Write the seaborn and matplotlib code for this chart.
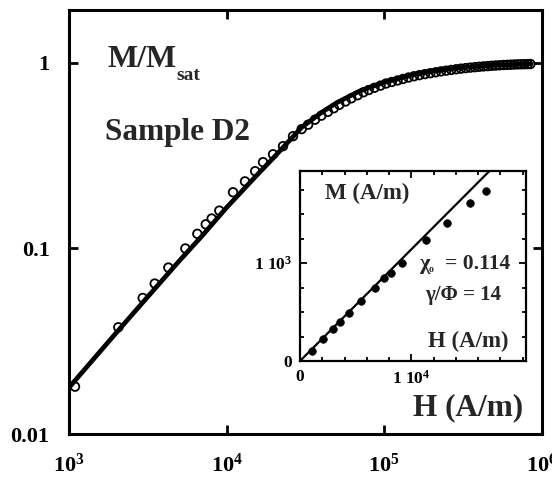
import matplotlib
matplotlib.use("Agg")
import matplotlib.pyplot as plt
from matplotlib.ticker import FixedLocator, MultipleLocator, NullLocator
import seaborn as sns

# ---------------- main panel data ----------------
H_data = [1092, 2056, 2938, 3500, 4273, 5478, 6530, 7380, 8050, 9000,
          11000, 13100, 15200, 17060, 19740, 22850, 26440,
          30000, 33000, 36500, 40000, 44000, 48000, 52000, 57000, 62000,
          68000, 74000, 80000, 87000, 95000, 103000, 112000, 122000,
          132000, 143000, 155000, 168000, 182000, 197000, 213000, 230000,
          248000, 267000, 287000, 308000, 330000, 353000, 377000, 402000,
          428000, 455000, 483000, 512000, 542000, 573000, 605000, 638000,
          672000, 707000, 743000, 780000, 818000, 850000]
M_data = [0.018, 0.0376, 0.0541, 0.0647, 0.0789, 0.100, 0.120, 0.135, 0.145, 0.160,
          0.201, 0.230, 0.261, 0.292, 0.322, 0.356, 0.403,
          0.440, 0.465, 0.495, 0.520, 0.545, 0.570, 0.595, 0.620, 0.645,
          0.670, 0.695, 0.715, 0.735, 0.755, 0.775, 0.790, 0.805,
          0.820, 0.835, 0.848, 0.860, 0.871, 0.881, 0.891, 0.901,
          0.909, 0.917, 0.925, 0.932, 0.938, 0.944, 0.949, 0.954,
          0.958, 0.962, 0.966, 0.969, 0.972, 0.975, 0.977, 0.979,
          0.981, 0.983, 0.984, 0.985, 0.986, 0.987]

H_fit = [1000, 2000, 3000, 5000, 7000, 10000, 15000, 20000, 30000, 40000,
         50000, 70000, 100000, 150000, 200000, 300000, 500000, 850000]
M_fit = [0.0178, 0.0352, 0.0522, 0.0855, 0.117, 0.166, 0.240, 0.310, 0.450, 0.540,
         0.610, 0.705, 0.785, 0.860, 0.900, 0.942, 0.972, 0.990]

x_ticks = [1e3, 1e4, 1e5, 1e6]
x_ticklabels = [r"$10^{3}$", r"$10^{4}$", r"$10^{5}$", r"$10^{6}$"]
y_ticks = [0.01, 0.1, 1]
y_ticklabels = ["0.01", "0.1", "1"]

# ---------------- inset data ----------------
H_in = [1098, 2080, 2975, 3570, 4375, 5510, 6700, 7530, 8130, 9130,
        11310, 13190, 15270, 16720]
M_in = [102, 221, 326, 395, 486, 615, 748, 844, 895, 997,
        1235, 1411, 1609, 1735]
H_in_fit = [0, 18000]
M_in_fit = [0, 2052]
xin_ticks = [0, 1e4]
xin_ticklabels = ["0", r"1 $10^{4}$"]
yin_ticks = [0, 1e3]
yin_ticklabels = ["0", r"1 $10^{3}$"]

# ---------------- style ----------------
sns.set_style("ticks")
plt.rcParams['font.family'] = ['Liberation Serif', 'DejaVu Serif']
plt.rcParams['font.weight'] = 'bold'
plt.rcParams['mathtext.fontset'] = 'custom'
plt.rcParams['mathtext.rm'] = 'Liberation Serif:bold'
plt.rcParams['mathtext.it'] = 'Liberation Serif:bold:italic'
plt.rcParams['mathtext.bf'] = 'Liberation Serif:bold'

W, Hh = 552, 479
fig = plt.figure(figsize=(W / 100, Hh / 100), dpi=100)


def fpos(x, y):
    return x / W, 1 - y / Hh


# main axes: pixel box x 69..541.5, y 10..434
ax = fig.add_axes([69 / W, 1 - 434 / Hh, (541.5 - 69) / W, (434 - 10) / Hh])
sns.lineplot(x=H_fit, y=M_fit, ax=ax, color="black", linewidth=3.4,
             sort=False, zorder=2)
sns.scatterplot(x=H_data, y=M_data, ax=ax, marker="o", s=38,
                facecolor="none", edgecolor="black", linewidth=1.3, zorder=3)
ax.set_xscale("log")
ax.set_yscale("log")
ax.set_xlim(1e3, 1e6)
ax.set_ylim(0.01, 1.93)
ax.xaxis.set_major_locator(FixedLocator(x_ticks))
ax.xaxis.set_minor_locator(NullLocator())
ax.yaxis.set_major_locator(FixedLocator(y_ticks))
ax.yaxis.set_minor_locator(NullLocator())
ax.set_xticklabels(x_ticklabels)
ax.set_yticklabels(y_ticklabels)
ax.tick_params(axis="both", which="major", direction="in", length=6.5,
               width=2, top=True, right=True, labelsize=16, colors="black")
ax.tick_params(axis="x", pad=14)
ax.tick_params(axis="y", pad=14)
for s in ax.spines.values():
    s.set_linewidth(2.2)
    s.set_color("black")
ax.set_xlabel("")
ax.set_ylabel("")

# main texts
fig.text(*fpos(107, 67), "M/M", fontsize=23, fontweight="bold", va="baseline", ha="left")
fig.text(*fpos(176, 80), "sat", fontsize=14, fontweight="bold", va="baseline", ha="left")
fig.text(*fpos(105, 140), "Sample D2", fontsize=22.5, fontweight="bold", va="baseline", ha="left")
fig.text(*fpos(523, 415), "H (A/m)", fontsize=22.5, fontweight="bold", va="baseline", ha="right")

# inset axes: pixel box x 300..526, y 171..361
axi = fig.add_axes([300 / W, 1 - 361 / Hh, 226 / W, 190 / Hh])
sns.lineplot(x=H_in_fit, y=M_in_fit, ax=axi, color="black", linewidth=1.6, zorder=2)
sns.scatterplot(x=H_in, y=M_in, ax=axi, marker="o", s=30, color="black",
                edgecolor="black", linewidth=0.5, zorder=3)
axi.set_xlim(0, 20300)
axi.set_ylim(0, 1940)
axi.xaxis.set_major_locator(FixedLocator(xin_ticks))
axi.yaxis.set_major_locator(FixedLocator(yin_ticks))
axi.set_xticklabels(xin_ticklabels)
axi.set_yticklabels(yin_ticklabels)
axi.xaxis.set_minor_locator(MultipleLocator(2000))
axi.yaxis.set_minor_locator(MultipleLocator(250))
axi.tick_params(axis="both", which="both", direction="in", top=True, right=True,
                width=1.3, colors="black")
axi.tick_params(axis="both", which="major", length=5, labelsize=12.5, pad=6)
axi.tick_params(axis="both", which="minor", length=3)
for s in axi.spines.values():
    s.set_linewidth(1.6)
    s.set_color("black")
axi.set_xlabel("")
axi.set_ylabel("")

fig.text(*fpos(325, 199), "M (A/m)", fontsize=16.5, fontweight="bold", va="baseline", ha="left")
fig.text(*fpos(420, 269), "\u03c7", fontsize=16, fontweight="bold", va="baseline", ha="left")
fig.text(*fpos(429, 272), "o", fontsize=7, fontweight="bold", va="baseline", ha="left")
fig.text(*fpos(510, 269), "= 0.114", fontsize=15.5, fontweight="bold", va="baseline", ha="right")
fig.text(*fpos(463, 300), "\u03b3/\u03a6 = 14", fontsize=15, fontweight="bold", va="baseline", ha="center")
fig.text(*fpos(428, 347), "H (A/m)", fontsize=16.5, fontweight="bold", va="baseline", ha="left")

fig.savefig("out.png", dpi=100)
